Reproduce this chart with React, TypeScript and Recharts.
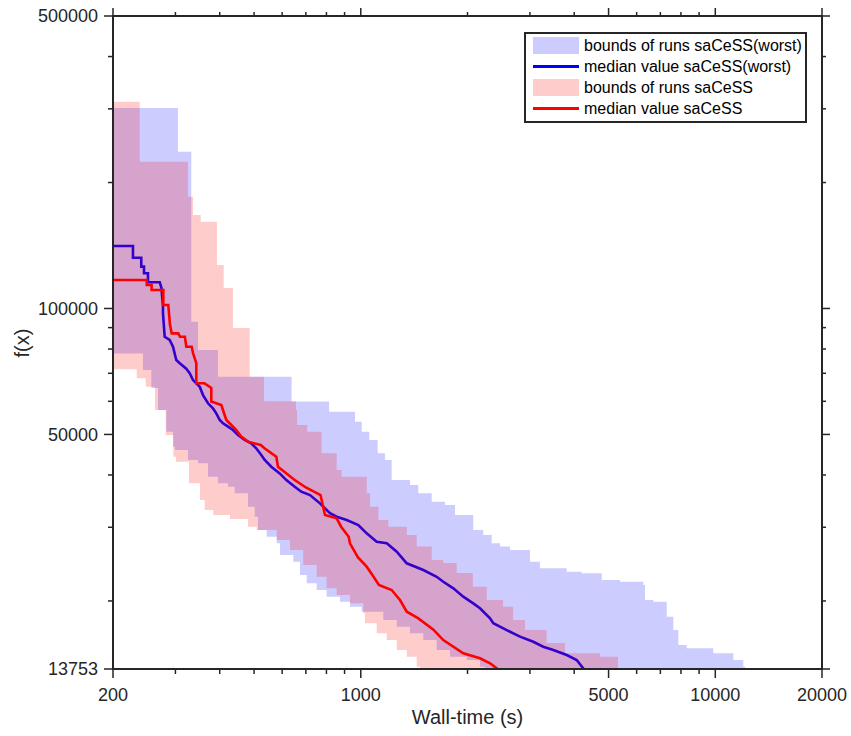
import React from 'react';
import { ComposedChart, Area, Line, XAxis, YAxis } from 'recharts';

type Pt = [number, number];

// [wall-time (s), f(x)] step points of the run bounds
const blueUpper: Pt[] = [
  [200, 301400], [305, 237000], [332.6, 93000], [347.4, 79600], [395.5, 68700],
  [638, 59900], [814, 56670], [963, 53620], [1006, 50760], [1057, 48500],
  [1116, 45070], [1170, 43430], [1222, 38900], [1377, 37850], [1453, 36160],
  [1585, 34520], [1728, 33910], [1844, 32090], [2076, 29550], [2216, 28750],
  [2340, 27470], [2470, 26970], [2636, 26480], [3002, 24820], [3202, 23930],
  [3810, 23490], [4199, 23280], [4782, 22440], [5386, 22230], [6266, 21840],
  [6335, 20100], [6687, 19910], [7296, 18340], [7615, 17040], [7866, 15690],
  [8306, 15420], [9871, 14990], [11243, 14450], [11996, 13930], [12130, 13753],
];

const blueLower: Pt[] = [
  [200, 78100], [243, 71300], [256.5, 64550], [268, 57200], [282.8, 50760],
  [295.3, 46740], [299, 45900], [325.5, 43430], [347.4, 42650], [370.7, 39620],
  [395.5, 38200], [422.2, 37500], [441, 36160], [480.6, 33600], [502, 31800],
  [512.9, 29550], [542.8, 28480], [579.3, 27470], [591.8, 25760], [645, 24820],
  [673.7, 23060], [703.9, 22040], [750.8, 21240], [801, 20480], [873.7, 19910],
  [932, 19380], [1006, 18850], [1157.6, 18010], [1263, 17360], [1377, 16740],
  [1501, 16130], [1637, 15270], [1785, 14710], [1990, 14450], [2169, 13930],
  [2241, 13753],
];

const redUpper: Pt[] = [
  [200, 312000], [237.9, 224300], [325.5, 185000], [336.3, 167200], [353.5, 161200],
  [393, 127000], [410.5, 111900], [436.1, 89800], [486, 68700], [533.4, 60000],
  [656.5, 57200], [661, 52660], [706, 50760], [775, 45070], [855, 41110],
  [883, 39620], [1039, 36160], [1062, 33600], [1122, 31220], [1196, 30090],
  [1348, 28750], [1438, 26970], [1585, 25060], [1709, 24640], [1864, 23320],
  [2070, 21640], [2266, 20100], [2518, 19380], [2689, 18010], [2906, 17040],
  [3344, 15860], [3768, 15000], [4731, 14710], [5316, 13753],
];

const redLower: Pt[] = [
  [200, 71550], [233.3, 68100], [247.3, 65000], [262.7, 57200], [281.7, 49850],
  [295.9, 44230], [301, 43030], [327.6, 38200], [351.9, 34850], [362.8, 32990],
  [383.6, 32090], [427.6, 31400], [480.6, 30090], [508.6, 29550], [579.3, 27970],
  [631.4, 26480], [688.2, 24370], [750.8, 22850], [801, 21440], [855, 20670],
  [932, 19740], [1016.5, 18680], [1027.8, 17690], [1108.7, 16740], [1183.7, 16130],
  [1263, 15270], [1348, 14710], [1438, 13930], [1469, 13753],
];

// median curves as polyline corners
const blueMedian: Pt[] = [
  [200, 141000], [227.7, 141000], [227.7, 132200], [240.3, 132200], [240.3, 125900],
  [244.6, 125900], [244.6, 121400], [251, 121400], [251, 115500], [271, 115500],
  [274, 111900], [276.7, 101000], [276.7, 97400], [279.8, 85600], [289, 84100],
  [295.3, 81000], [301.7, 75300], [308.5, 74000], [321.9, 71800], [329.1, 70000],
  [336.3, 67450], [343.6, 66250], [351.3, 65000], [358.9, 62100], [370.7, 59350],
  [382.9, 57700], [391.2, 56170], [400, 54130], [408.7, 53150], [422.2, 52180],
  [436.1, 51240], [450.4, 49850], [470.5, 48500], [490.9, 47630], [507, 46330],
  [524, 44650], [535.8, 43430], [559.2, 41860], [590.6, 40360], [616.5, 38900],
  [651, 37500], [679.5, 36490], [718.9, 35820], [767, 34220], [818.6, 32400],
  [855, 31800], [912.6, 31220], [984, 30370], [1039, 29020], [1109, 27710],
  [1184, 27470], [1263, 26230], [1348, 24600], [1501, 23710], [1637, 22850],
  [1709, 22230], [1824, 21440], [1946, 20480], [2076, 19740], [2169, 19210],
  [2315, 18180], [2365, 17690], [2580, 17040], [2813, 16430], [3066, 15980],
  [3271, 15550], [3492, 15270], [3810, 14850], [4064, 14450], [4243, 13800],
  [4250, 13753],
];

const redMedian: Pt[] = [
  [200, 117000], [249, 117000], [249, 113800], [257, 113800], [257, 110700],
  [277.3, 110700], [277.3, 101950], [286.4, 101950], [289.6, 91400], [292.8, 87200],
  [305.7, 87200], [309, 85600], [319, 85600], [322, 81000], [333.4, 81000],
  [336.5, 78100], [343.6, 74000], [343.6, 66250], [362, 66250], [378.7, 64550],
  [378.7, 59900], [404.2, 58800], [417.5, 54130], [431.3, 52660], [445.5, 51240],
  [460, 49400], [480.6, 48050], [522, 47170], [535, 46330], [577.7, 44230],
  [584, 41860], [651, 38900], [700, 37340], [770, 35820], [792.6, 32090],
  [855, 31520], [880, 30090], [924.5, 28480], [932, 27470], [982, 25400],
  [1039, 24150], [1083, 22950], [1125, 21840], [1222, 21240], [1290, 20100],
  [1348, 18850], [1450, 18200], [1600, 17100], [1709, 16130], [1946, 14990],
  [2169, 14590], [2315, 14190], [2418, 13800], [2430, 13753],
];

const xTicks = [200, 300, 400, 500, 600, 700, 800, 900, 1000, 2000, 3000, 4000, 5000, 6000, 7000, 8000, 9000, 10000, 20000];
const xLabels = [200, 1000, 5000, 10000, 20000];
const yTicks = [13753, 20000, 30000, 40000, 50000, 60000, 70000, 80000, 90000, 100000, 200000, 300000, 400000, 500000];
const yLabels = [13753, 50000, 100000, 500000];

const ink = '#262626';
const font = '"Liberation Sans", Arial, Helvetica, sans-serif';

// value of a step curve at time t (stepAfter semantics)
const stepAt = (pts: Pt[], t: number, hold = false): number | null => {
  if (t < pts[0][0]) return null;
  const last = pts[pts.length - 1];
  if (t > last[0]) return hold ? last[1] : null;
  let v = pts[0][1];
  for (const [x, y] of pts) {
    if (x <= t) v = y;
    else break;
  }
  return v;
};

const bandTimes = Array.from(
  new Set([blueUpper, blueLower, redUpper, redLower].flat().map((p) => p[0]))
).sort((a, b) => a - b);

const bandData = bandTimes.map((t) => {
  const bu = stepAt(blueUpper, t);
  const ru = stepAt(redUpper, t);
  return {
    t,
    blueBand: bu == null ? null : [stepAt(blueLower, t, true), bu],
    redBand: ru == null ? null : [stepAt(redLower, t, true), ru],
  };
});

const blueMedData = blueMedian.map(([t, v]) => ({ t, v }));
const redMedData = redMedian.map(([t, v]) => ({ t, v }));

const axisLine = { stroke: ink, strokeWidth: 2, strokeLinecap: 'square' as const };

const BottomTick = ({ x, y, payload }: any) => {
  const major = xLabels.includes(payload.value);
  return (
    <g>
      <line x1={x} x2={x} y1={y} y2={y + (major ? 9 : 5)} stroke={ink} strokeWidth={1.5} />
      {major && (
        <text x={x} y={y + 19} dy="0.71em" textAnchor="middle" fill={ink} fontSize={18} fontFamily={font}>
          {payload.value}
        </text>
      )}
    </g>
  );
};

const TopTick = ({ x, y, payload }: any) => {
  const major = xLabels.includes(payload.value);
  return <line x1={x} x2={x} y1={y} y2={y - (major ? 8 : 4)} stroke={ink} strokeWidth={1.5} />;
};

const LeftTick = ({ x, y, payload }: any) => {
  const major = yLabels.includes(payload.value);
  return (
    <g>
      <line x1={x} x2={x - (major ? 9 : 5)} y1={y} y2={y} stroke={ink} strokeWidth={1.5} />
      {major && (
        <text x={x - 15} y={y} dy="0.36em" textAnchor="end" fill={ink} fontSize={18} fontFamily={font}>
          {payload.value}
        </text>
      )}
    </g>
  );
};

const RightTick = ({ x, y, payload }: any) => {
  const major = yLabels.includes(payload.value);
  return <line x1={x} x2={x + (major ? 8 : 4)} y1={y} y2={y} stroke={ink} strokeWidth={1.5} />;
};

const legendItems = [
  { label: 'bounds of runs saCeSS(worst)', color: '#0000ff', patch: true },
  { label: 'median value saCeSS(worst)', color: '#0000ff', patch: false },
  { label: 'bounds of runs saCeSS', color: '#ff0000', patch: true },
  { label: 'median value saCeSS', color: '#ff0000', patch: false },
];

export default function App() {
  return (
    <div style={{ position: 'absolute', left: 0, top: 0, width: 851, height: 736, background: '#fff' }}>
      <ComposedChart width={851} height={736} data={bandData} margin={{ top: 0, right: 0, bottom: 0, left: 0 }}>
        <XAxis
          xAxisId="b"
          dataKey="t"
          type="number"
          scale="log"
          domain={[200, 20000]}
          allowDataOverflow
          ticks={xTicks}
          interval={0}
          height={67}
          tickSize={0}
          tickMargin={0}
          tickLine={false}
          tick={(p: any) => <BottomTick {...p} />}
          axisLine={axisLine}
        />
        <XAxis
          xAxisId="t"
          orientation="top"
          dataKey="t"
          type="number"
          scale="log"
          domain={[200, 20000]}
          allowDataOverflow
          ticks={xTicks}
          interval={0}
          height={16}
          tickSize={0}
          tickMargin={0}
          tickLine={false}
          tick={(p: any) => <TopTick {...p} />}
          axisLine={axisLine}
        />
        <YAxis
          yAxisId="l"
          type="number"
          scale="log"
          domain={[13753, 500000]}
          allowDataOverflow
          ticks={yTicks}
          interval={0}
          width={113}
          tickSize={0}
          tickMargin={0}
          tickLine={false}
          tick={(p: any) => <LeftTick {...p} />}
          axisLine={axisLine}
        />
        <YAxis
          yAxisId="r"
          orientation="right"
          type="number"
          scale="log"
          domain={[13753, 500000]}
          allowDataOverflow
          ticks={yTicks}
          interval={0}
          width={29}
          tickSize={0}
          tickMargin={0}
          tickLine={false}
          tick={(p: any) => <RightTick {...p} />}
          axisLine={axisLine}
        />

        <Area
          xAxisId="b"
          yAxisId="l"
          dataKey="blueBand"
          type="stepAfter"
          stroke="none"
          fill="#0000ff"
          fillOpacity={0.2}
          isAnimationActive={false}
          dot={false}
          activeDot={false}
        />
        <Area
          xAxisId="b"
          yAxisId="l"
          dataKey="redBand"
          type="stepAfter"
          stroke="none"
          fill="#ff0000"
          fillOpacity={0.2}
          isAnimationActive={false}
          dot={false}
          activeDot={false}
        />
        {/* blue median sits under the red band in the original, hence the tinted stroke */}
        <Line
          xAxisId="b"
          yAxisId="l"
          data={blueMedData}
          dataKey="v"
          type="linear"
          stroke="#3300cc"
          strokeWidth={2.6}
          dot={false}
          activeDot={false}
          isAnimationActive={false}
        />
        <Line
          xAxisId="b"
          yAxisId="l"
          data={redMedData}
          dataKey="v"
          type="linear"
          stroke="#ff0000"
          strokeWidth={2.6}
          dot={false}
          activeDot={false}
          isAnimationActive={false}
        />
      </ComposedChart>

      <div
        style={{
          position: 'absolute',
          left: 0,
          width: 935,
          top: 707,
          textAlign: 'center',
          fontFamily: font,
          fontSize: 20,
          lineHeight: '20px',
          color: ink,
        }}
      >
        Wall-time (s)
      </div>
      <div
        style={{
          position: 'absolute',
          left: 22,
          top: 343,
          transform: 'translate(-50%, -50%) rotate(-90deg)',
          fontFamily: font,
          fontSize: 20,
          lineHeight: '20px',
          color: ink,
          whiteSpace: 'nowrap',
        }}
      >
        f(x)
      </div>

      <div
        style={{
          position: 'absolute',
          left: 524,
          top: 32,
          width: 283,
          height: 91,
          boxSizing: 'border-box',
          border: `2px solid ${ink}`,
          background: '#fff',
          fontFamily: font,
          fontSize: 16,
          color: '#000',
        }}
      >
        {legendItems.map((it, i) => (
          <div
            key={it.label}
            style={{ position: 'absolute', left: 0, top: 0.5 + 21.3 * i, height: 21, width: '100%' }}
          >
            {it.patch ? (
              <div
                style={{
                  position: 'absolute',
                  left: 7,
                  top: 2,
                  width: 46,
                  height: 17,
                  background: it.color,
                  opacity: 0.2,
                }}
              />
            ) : (
              <div
                style={{ position: 'absolute', left: 7, top: 9, width: 46, height: 3, background: it.color }}
              />
            )}
            <span style={{ position: 'absolute', left: 58, top: 0, lineHeight: '21px', whiteSpace: 'nowrap' }}>
              {it.label}
            </span>
          </div>
        ))}
      </div>
    </div>
  );
}
